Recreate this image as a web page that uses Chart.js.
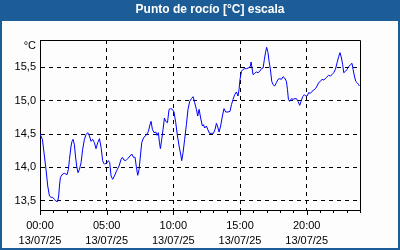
<!DOCTYPE html>
<html>
<head>
<meta charset="utf-8">
<script src="https://cdn.jsdelivr.net/npm/chart.js@4/dist/chart.umd.min.js"></script>
<style>
  html, body { margin: 0; padding: 0; background: #fcfdfc; }
  #wrap { width: 400px; height: 250px; position: relative; }
</style>
</head>
<body>
<div id="wrap"><canvas id="c" width="400" height="250"></canvas></div>
<script>
const TITLE = 'Punto de rocío [°C] escala';
const UNIT = '°C';
const DATE_LABEL = '13/07/25';
const labelHours = [0, 5, 10, 15, 20];
const timeLabels = ['00:00', '05:00', '10:00', '15:00', '20:00'];
const yTicks = [13.5, 14.0, 14.5, 15.0, 15.5];

// hours since 00:00 on 13/07/25
const hours = [
  0, 0.18, 0.33, 0.45, 0.58, 0.71, 0.83, 0.95, 1.08, 1.2, 1.33, 1.40, 1.46, 1.53, 1.70, 1.83, 2.03, 2.13, 2.21, 2.33,
  2.40, 2.48, 2.58, 2.66, 2.75, 2.85, 2.96, 3.08, 3.20, 3.33, 3.45, 3.58, 3.71, 3.83, 3.95, 4.08, 4.20, 4.33, 4.46, 4.58,
  4.70, 4.78,
  4.83, 5.00, 5.13, 5.23, 5.33, 5.45, 5.58, 5.75, 5.93, 6.08, 6.18, 6.30, 6.43, 6.58, 6.75, 6.88, 7.01, 7.13, 7.23, 7.33,
  7.43, 7.53, 7.63, 7.76, 7.88, 8.00, 8.13, 8.25, 8.33, 8.43, 8.55, 8.68, 8.78, 8.88, 8.96, 9.03, 9.13, 9.23, 9.33, 9.43,
  9.56,
  9.68, 9.80, 9.93, 10.05, 10.18, 10.31, 10.43, 10.55, 10.63, 10.73, 10.85, 10.98, 11.10, 11.23, 11.36, 11.48, 11.60, 11.73, 11.83, 11.93,
  12.05, 12.18, 12.26, 12.35, 12.48, 12.60, 12.71, 12.86, 13.01, 13.13, 13.23, 13.31, 13.43, 13.55, 13.68, 13.80, 13.93, 14.10, 14.25,
  14.36, 14.48, 14.60, 14.73, 14.85, 14.93, 15.00, 15.11, 15.23, 15.35, 15.48, 15.65, 15.78, 15.83, 15.90, 15.98, 16.10, 16.23, 16.35, 16.48,
  16.61, 16.73, 16.83, 16.93, 17.00, 17.10, 17.18, 17.28, 17.38, 17.48, 17.60, 17.73, 17.85, 17.98, 18.11, 18.23, 18.35, 18.48, 18.56, 18.63,
  18.73, 18.86, 18.98, 19.13,
  19.23, 19.35, 19.48, 19.58, 19.70, 19.83, 19.93, 20.03, 20.15, 20.28, 20.40, 20.53, 20.66, 20.78, 20.90, 21.03, 21.15, 21.28, 21.41, 21.53,
  21.65, 21.78, 21.90, 22.03, 22.16, 22.28, 22.40, 22.50, 22.61, 22.70, 22.78, 22.91, 23.03, 23.15, 23.28, 23.40, 23.48, 23.58, 23.68, 23.78,
  23.90, 23.95
];

const dewPoint = [
  14.50, 14.42, 14.17, 13.97, 13.72, 13.57, 13.55, 13.55, 13.52, 13.49, 13.49, 13.57, 13.72, 13.85, 13.90, 13.91, 13.89, 13.97, 14.12, 14.32,
  14.39, 14.42, 14.34, 14.17, 14.02, 13.92, 13.97, 14.07, 14.27, 14.42, 14.49, 14.52, 14.47, 14.39, 14.42, 14.37, 14.28, 14.37, 14.43, 14.30,
  14.10, 14.06,
  14.05, 14.06, 14.10, 14.07, 13.87, 13.82, 13.87, 13.95, 14.02, 14.12, 14.15, 14.11, 14.10, 14.13, 14.17, 14.20, 14.15, 14.15, 14.00, 13.88,
  13.97, 14.17, 14.37, 14.44, 14.47, 14.49, 14.54, 14.64, 14.69, 14.57, 14.52, 14.53, 14.48, 14.52, 14.37, 14.28, 14.42, 14.57, 14.74, 14.69,
  14.67,
  14.87, 14.88, 14.87, 14.83, 14.67, 14.47, 14.32, 14.20, 14.10, 14.22, 14.42, 14.64, 14.87, 14.99, 15.03, 15.06, 14.97, 14.87, 14.77, 14.87,
  14.74, 14.62, 14.64, 14.59, 14.62, 14.56, 14.51, 14.51, 14.51, 14.57, 14.66, 14.62, 14.53, 14.62, 14.77, 14.88, 14.83, 14.83, 14.84,
  14.94, 15.02, 15.09, 15.13, 15.07, 15.17, 15.32, 15.44, 15.47, 15.48, 15.48, 15.49, 15.52, 15.58, 15.49, 15.39, 15.41, 15.43, 15.42, 15.44,
  15.48, 15.49, 15.62, 15.74, 15.80, 15.72, 15.59, 15.47, 15.29, 15.24, 15.22, 15.27, 15.32, 15.33, 15.32, 15.36, 15.34, 15.29, 15.17, 15.02,
  14.99, 15.03, 15.02, 15.03,
  15.03, 14.99, 14.93, 14.99, 15.06, 15.09, 15.07, 15.07, 15.12, 15.11, 15.14, 15.16, 15.18, 15.22, 15.27, 15.29, 15.32, 15.31, 15.33, 15.36,
  15.38, 15.37, 15.39, 15.42, 15.47, 15.57, 15.66, 15.72, 15.64, 15.54, 15.42, 15.44, 15.47, 15.51, 15.54, 15.56, 15.47, 15.37, 15.29, 15.27,
  15.24, 15.22
];

const BG = '#fcfdfc';
const BAR = '#1d5d97';
const FONT = "'Liberation Sans', Arial, sans-serif";

const points = hours.map((h, i) => ({ x: h, y: dewPoint[i] }));

const decoPlugin = {
  id: 'deco',
  afterLayout(chart) {
    // the reference title is centred at x = 210 (span 20..400)
    if (chart.titleBlock) {
      chart.titleBlock.left = 20;
      chart.titleBlock.right = chart.width;
    }
  },
  beforeDraw(chart) {
    const { ctx, width, height } = chart;
    ctx.save();
    ctx.fillStyle = BG;
    ctx.fillRect(0, 0, width, height);
    ctx.fillStyle = BAR;
    ctx.fillRect(0, 0, width, 21);
    ctx.restore();
  },
  afterDraw(chart) {
    const { ctx, chartArea: a, width, height } = chart;
    const xs = chart.scales.x;
    ctx.save();
    ctx.strokeStyle = '#000';
    ctx.lineWidth = 1;
    ctx.setLineDash([]);
    ctx.beginPath();
    ctx.moveTo(Math.round(a.left) + 0.5, Math.round(a.top) + 0.5);
    ctx.lineTo(Math.round(a.right) + 0.5, Math.round(a.top) + 0.5);
    ctx.lineTo(Math.round(a.right) + 0.5, Math.round(a.bottom) + 0.5);
    ctx.stroke();
    // hourly tick marks under the x axis
    xs.ticks.forEach(t => {
      const px = Math.round(xs.getPixelForValue(t.value)) + 0.5;
      const len = (t.value % 5 === 0) ? 4 : 2;
      ctx.beginPath();
      ctx.moveTo(px, Math.round(a.bottom));
      ctx.lineTo(px, Math.round(a.bottom) + 1 + len);
      ctx.stroke();
    });
    // unit label
    ctx.fillStyle = '#000';
    ctx.font = '11px ' + FONT;
    ctx.textAlign = 'right';
    ctx.textBaseline = 'middle';
    ctx.fillText(UNIT, a.left - 4, a.top + 6);
    // outer frame
    ctx.strokeStyle = BAR;
    ctx.lineWidth = 2;
    ctx.strokeRect(1, 1, width - 2, height - 2);
    ctx.restore();
  }
};

new Chart(document.getElementById('c'), {
  type: 'line',
  data: {
    datasets: [{
      data: points,
      borderColor: '#0000ff',
      borderWidth: 1,
      pointRadius: 0,
      tension: 0,
      fill: false
    }]
  },
  options: {
    responsive: false,
    animation: false,
    devicePixelRatio: 1,
    layout: { padding: { left: 0, right: 40, top: 0, bottom: 0 } },
    plugins: {
      legend: { display: false },
      tooltip: { enabled: false },
      title: {
        display: true,
        text: TITLE,
        color: '#ffffff',
        font: { family: FONT, size: 12, weight: 'bold', lineHeight: 1.2 },
        padding: { top: 2, bottom: 23.6 }
      }
    },
    scales: {
      x: {
        type: 'linear',
        min: 0,
        max: 24,
        afterFit: s => { s.height = 40; },
        ticks: {
          stepSize: 1,
          autoSkip: false,
          maxRotation: 0,
          padding: 8,
          color: '#000',
          font: { family: FONT, size: 11, lineHeight: '15px' },
          callback: v => {
            const i = labelHours.indexOf(v);
            return i >= 0 ? [timeLabels[i], DATE_LABEL] : '';
          }
        },
        grid: {
          drawTicks: false,
          lineWidth: 1,
          color: c => (c.tick && c.tick.value % 5 === 0 && c.tick.value > 0 && c.tick.value < 24) ? '#000' : 'rgba(0,0,0,0)'
        },
        border: { display: true, color: '#000', width: 1, dash: [4, 4] }
      },
      y: {
        min: 13.36,
        max: 15.91,
        afterFit: s => { s.width = 40; },
        afterBuildTicks: s => { s.ticks = yTicks.map(v => ({ value: v })); },
        ticks: {
          padding: 4,
          color: '#000',
          font: { family: FONT, size: 11 },
          callback: v => Number(v).toFixed(1).replace('.', ',')
        },
        grid: { drawTicks: false, lineWidth: 1, color: '#000' },
        border: { display: true, color: '#000', width: 1, dash: [4, 4] }
      }
    }
  },
  plugins: [decoPlugin]
});
</script>
</body>
</html>
